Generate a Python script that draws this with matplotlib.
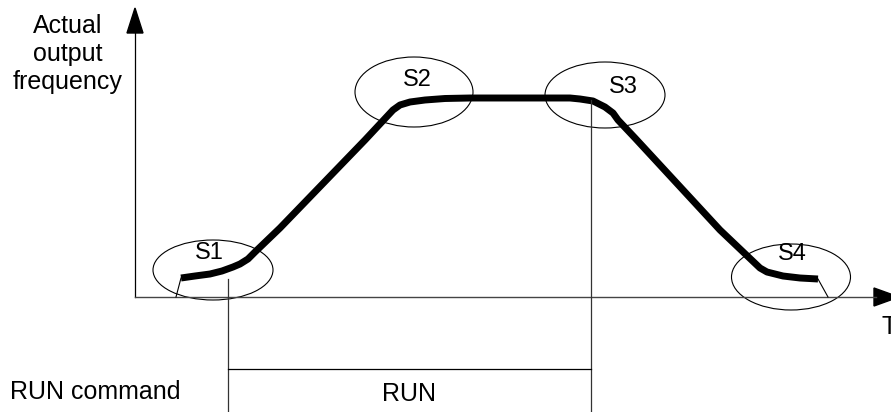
import matplotlib.pyplot as plt
from matplotlib.patches import Ellipse, Polygon

plt.rcParams['font.family'] = ['Liberation Sans', 'DejaVu Sans']

# frequency curve (pixel units, y down)
curve_x = [181, 195, 210, 222, 233, 240, 248, 255, 280, 365, 393, 400, 410, 425,
           445, 470, 570, 580, 593, 605, 613, 618, 635, 720, 760, 767, 783, 800, 818]
curve_y = [278, 276, 274, 271, 267, 264, 259, 252, 228, 140, 110, 105, 102, 100,
           98.5, 98, 98, 99, 101, 107, 113, 120, 138, 230, 268, 272, 276, 278, 279]

# S-curve regions
s_labels = ['S1', 'S2', 'S3', 'S4']
s_centers = [(213, 270), (414, 92), (605, 95), (791, 277)]
s_sizes = [(120, 60), (118, 70), (120, 66), (119, 66)]
s_text_pos = [(209, 253), (417, 80), (623, 87), (792, 254)]

run_start, run_stop = 228, 591
axis_x0, axis_y0 = 135, 297

fig = plt.figure(figsize=(8.91, 4.12), dpi=100)
ax = fig.add_axes([0, 0, 1, 1])
ax.set_xlim(0, 891)
ax.set_ylim(412, 0)
ax.axis('off')

# axes with arrow heads
ax.plot([axis_x0, axis_x0], [axis_y0, 30], color='black', lw=0.9)
ax.plot([axis_x0, 876], [axis_y0, axis_y0], color='#444444', lw=1.0)
ax.add_patch(Polygon([(axis_x0, 8), (axis_x0 - 8, 33), (axis_x0 + 8, 33)],
                     closed=True, color='black'))
ax.add_patch(Polygon([(899, axis_y0), (874, axis_y0 - 9), (874, axis_y0 + 9)],
                     closed=True, color='black'))

ax.text(68, 54, 'Actual\noutput\nfrequency', ha='center', va='center',
        fontsize=18, linespacing=1.2)
ax.text(881, 334, 'T', ha='left', va='baseline', fontsize=18)

# curve
ax.plot(curve_x, curve_y, color='black', lw=5, solid_capstyle='butt',
        solid_joinstyle='round')
ax.plot([curve_x[0], 176], [curve_y[0], axis_y0], color='black', lw=0.8)
ax.plot([curve_x[-1], 828], [curve_y[-1], axis_y0], color='black', lw=0.8)

for lab, c, (w, h), tp in zip(s_labels, s_centers, s_sizes, s_text_pos):
    ax.add_patch(Ellipse(c, w, h, fill=False, edgecolor='black', lw=0.8))
    ax.text(tp[0], tp[1], lab, ha='center', va='center', fontsize=17)

# RUN command
ax.plot([run_start, run_start], [279, 412], color='#333333', lw=0.9)
ax.plot([run_stop, run_stop], [100, 412], color='#333333', lw=0.9)
ax.plot([run_start, run_stop], [369, 369], color='black', lw=0.9)
ax.text(10, 392, 'RUN command', ha='left', va='center', fontsize=18)
ax.text((run_start + run_stop) / 2, 394, 'RUN', ha='center', va='center', fontsize=18)

fig.savefig('out.png', dpi=100)
